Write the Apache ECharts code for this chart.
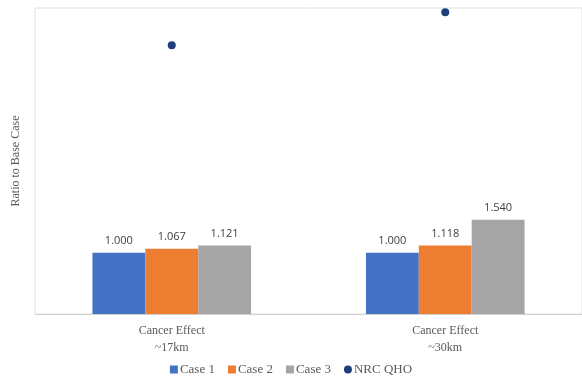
<!DOCTYPE html>
<html><head><meta charset="utf-8">
<script src="https://cdn.jsdelivr.net/npm/echarts@6/dist/echarts.min.js"></script>
<style>html,body{margin:0;padding:0;background:#fff}#c{width:582px;height:379px}</style>
</head><body><div id="c"></div>
<script>
const categories = ['Cancer Effect\n~17km', 'Cancer Effect\n~30km'];
const case1 = [1.000, 1.000];
const case2 = [1.067, 1.118];
const case3 = [1.121, 1.540];
const nrcQho = [4.39, 4.93];
const yAxisName = 'Ratio to Base Case';

const serif = '"Liberation Serif", "Times New Roman", serif';
const lbl = {show: true, position: 'top', distance: 6, formatter: p => p.value.toFixed(3),
  color: '#404040', fontSize: 11, fontFamily: '"Open Sans", "Liberation Sans", sans-serif'};

const chart = echarts.init(document.getElementById('c'));
chart.setOption({
  animation: false,
  grid: {left: 35, right: -1, top: 8, bottom: 65, show: true, borderColor: '#e0e0e0', borderWidth: 1},
  legend: {
    bottom: -2, left: 'center', itemWidth: 8, itemHeight: 8, itemGap: 13,
    textStyle: {fontFamily: serif, fontSize: 13, color: '#595959', padding: [0, 0, 0, -3]},
    data: [
      {name: 'Case 1', icon: 'rect'}, {name: 'Case 2', icon: 'rect'},
      {name: 'Case 3', icon: 'rect'}, {name: 'NRC QHO', icon: 'circle'}
    ]
  },
  xAxis: {
    type: 'category', data: categories,
    axisLine: {lineStyle: {color: '#d0d0d0'}}, axisTick: {show: false},
    axisLabel: {fontFamily: serif, fontSize: 12, color: '#595959', lineHeight: 17, margin: 8}
  },
  yAxis: {
    type: 'value', min: 0, max: 5, interval: 1,
    name: yAxisName, nameLocation: 'middle', nameGap: 13, nameRotate: 90,
    nameTextStyle: {fontFamily: serif, fontSize: 12, color: '#595959'},
    axisLabel: {show: false}, axisLine: {show: false}, axisTick: {show: false},
    splitLine: {show: false}
  },
  series: [
    {name: 'Case 1', type: 'bar', data: case1, barGap: '0%', barCategoryGap: '42%',
      itemStyle: {color: '#4472C4'}, label: lbl},
    {name: 'Case 2', type: 'bar', data: case2, itemStyle: {color: '#ED7D31'}, label: lbl},
    {name: 'Case 3', type: 'bar', data: case3, itemStyle: {color: '#A5A5A5'}, label: lbl},
    {name: 'NRC QHO', type: 'scatter', data: nrcQho, symbolSize: 8, itemStyle: {color: '#1F3F7A', opacity: 1}}
  ]
});
</script></body></html>
